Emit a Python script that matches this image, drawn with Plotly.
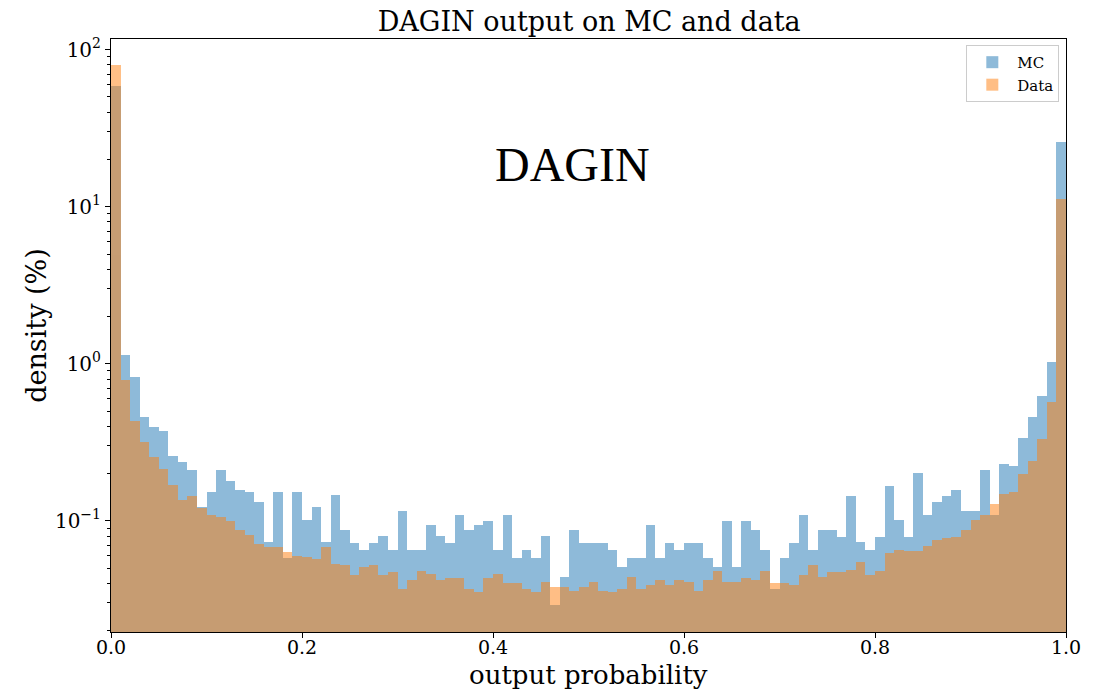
import math
import plotly.graph_objects as go

bin_edges_start = 0.0
bin_width = 0.01
n_bins = 100

mc_density = [
    59, 1.14, 0.82, 0.457, 0.395, 0.374, 0.26, 0.238, 0.21, 0.123,
    0.152, 0.21, 0.18, 0.158, 0.152, 0.131, 0.073, 0.152, 0.058, 0.152,
    0.101, 0.123, 0.073, 0.146, 0.087, 0.072, 0.065, 0.072, 0.08, 0.065,
    0.115, 0.065, 0.065, 0.094, 0.08, 0.072, 0.109, 0.087, 0.094, 0.1,
    0.065, 0.109, 0.058, 0.065, 0.058, 0.08, 0.029, 0.044, 0.087, 0.072,
    0.072, 0.072, 0.065, 0.051, 0.058, 0.058, 0.094, 0.058, 0.072, 0.065,
    0.072, 0.072, 0.058, 0.051, 0.1, 0.051, 0.1, 0.087, 0.065, 0.037,
    0.058, 0.072, 0.109, 0.065, 0.087, 0.087, 0.079, 0.145, 0.073, 0.065,
    0.079, 0.166, 0.101, 0.079, 0.203, 0.109, 0.131, 0.145, 0.158, 0.116,
    0.116, 0.21, 0.109, 0.231, 0.225, 0.338, 0.457, 0.623, 1.03, 25.8,
]

data_density = [
    80, 0.79, 0.43, 0.317, 0.256, 0.213, 0.168, 0.136, 0.145, 0.12,
    0.109, 0.106, 0.1, 0.088, 0.081, 0.071, 0.068, 0.068, 0.063, 0.06,
    0.059, 0.057, 0.068, 0.053, 0.052, 0.045, 0.051, 0.052, 0.045, 0.047,
    0.037, 0.042, 0.048, 0.046, 0.042, 0.043, 0.043, 0.037, 0.035, 0.043,
    0.046, 0.04, 0.04, 0.037, 0.035, 0.041, 0.038, 0.038, 0.036, 0.038,
    0.041, 0.036, 0.035, 0.037, 0.044, 0.037, 0.039, 0.042, 0.039, 0.042,
    0.041, 0.036, 0.042, 0.048, 0.041, 0.041, 0.043, 0.042, 0.048, 0.040,
    0.040, 0.039, 0.045, 0.052, 0.044, 0.047, 0.047, 0.049, 0.055, 0.045,
    0.048, 0.062, 0.065, 0.064, 0.064, 0.069, 0.075, 0.078, 0.079, 0.088,
    0.101, 0.109, 0.128, 0.149, 0.152, 0.2, 0.239, 0.333, 0.573, 11.2,
]

x_tick_vals = [0.0, 0.2, 0.4, 0.6, 0.8, 1.0]
x_tick_text = ["0.0", "0.2", "0.4", "0.6", "0.8", "1.0"]
y_tick_vals = [0.1, 1, 10, 100]
y_tick_text = ["10<sup>\u22121</sup>", "10<sup>0</sup>", "10<sup>1</sup>", "10<sup>2</sup>"]

centers = [bin_edges_start + bin_width * (i + 0.5) for i in range(n_bins)]

minor_vals = []
for dec in [0.01, 0.1, 1, 10, 100]:
    for k in range(2, 10):
        v = dec * k
        if 0.0196 < v < 117:
            minor_vals.append(v)

serif = "DejaVu Serif"

fig = go.Figure()
fig.add_trace(go.Bar(
    x=centers, y=mc_density, width=bin_width, name="MC",
    marker=dict(color="#1f77b4", line=dict(width=0)), opacity=0.5,
))
fig.add_trace(go.Bar(
    x=centers, y=data_density, width=bin_width, name="Data",
    marker=dict(color="#ff7f0e", line=dict(width=0)), opacity=0.5,
))

fig.add_annotation(
    x=0.4, y=math.log10(18.5), xref="x", yref="y",
    text="DAGIN", showarrow=False, xanchor="left", yanchor="middle",
    font=dict(family="Liberation Serif", size=48, color="black"),
)
# axis titles
fig.add_annotation(
    x=0.5, y=-0.073, xref="paper", yref="paper",
    text="output probability", showarrow=False, xanchor="center", yanchor="middle",
    font=dict(family=serif, size=26, color="black"),
)
fig.add_annotation(
    x=-0.0775, y=0.518, xref="paper", yref="paper", textangle=-90,
    text="density (%)", showarrow=False, xanchor="center", yanchor="middle",
    font=dict(family=serif, size=27, color="black"),
)

fig.update_layout(
    width=1109, height=692,
    barmode="overlay", bargap=0,
    plot_bgcolor="white", paper_bgcolor="white",
    margin=dict(l=111, r=43, t=39, b=60),
    font=dict(family=serif, color="black"),
    title=dict(text="DAGIN output on MC and data", x=0.5313, xanchor="center",
               y=1 - 22 / 692, yanchor="middle", font=dict(family=serif, size=27, color="black")),
    legend=dict(x=0.993, y=0.99, xanchor="right", yanchor="top", itemwidth=40,
                bgcolor="rgba(255,255,255,0.8)", bordercolor="#cccccc", borderwidth=1,
                font=dict(family=serif, size=15, color="black")),
    xaxis=dict(
        range=[0, 1], tickvals=x_tick_vals, ticktext=x_tick_text,
        showline=True, linecolor="black", linewidth=1, mirror=True,
        ticks="outside", ticklen=5, tickcolor="black", ticklabelstandoff=-7,
        showgrid=False, zeroline=False, automargin=False,
        tickfont=dict(family=serif, size=19),
    ),
    yaxis=dict(
        type="log", range=[math.log10(0.0196), math.log10(117)],
        tickvals=y_tick_vals, ticktext=y_tick_text,
        showline=True, linecolor="black", linewidth=1, mirror=True,
        ticks="outside", ticklen=5, tickcolor="black",
        minor=dict(tickmode="array", tickvals=minor_vals, ticks="outside", ticklen=3, tickcolor="black"),
        showgrid=False, zeroline=False, automargin=False,
        tickfont=dict(family=serif, size=20),
    ),
)

fig.write_html("out.html")
